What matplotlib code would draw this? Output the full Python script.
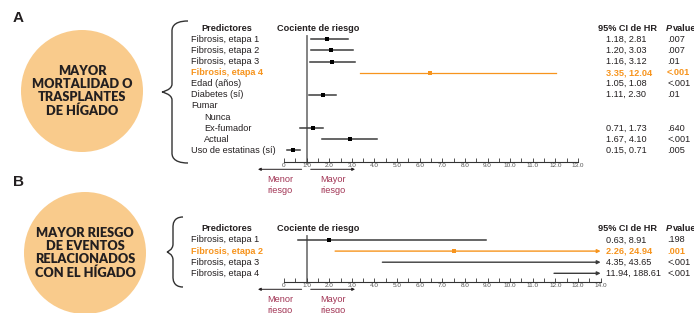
import numpy as np
import matplotlib
matplotlib.use("Agg")
import matplotlib.pyplot as plt
from matplotlib.patches import Circle, PathPatch
from matplotlib.path import Path
from matplotlib.transforms import blended_transform_factory

# ---- data -------------------------------------------------------------
pred_a = ["Fibrosis, etapa 1", "Fibrosis, etapa 2", "Fibrosis, etapa 3", "Fibrosis, etapa 4",
          "Edad (años)", "Diabetes (sí)", "Fumar", "Nunca", "Ex-fumador", "Actual",
          "Uso de estatinas (sí)"]
indent_a = [0, 0, 0, 0, 0, 0, 0, 1, 1, 1, 0]
hr_a = [1.9, 2.08, 2.12, 6.45, 1.06, 1.73, np.nan, np.nan, 1.27, 2.93, 0.41]
lo_a = [1.18, 1.20, 1.16, 3.35, 1.05, 1.11, np.nan, np.nan, 0.71, 1.67, 0.15]
hi_a = [2.81, 3.03, 3.12, 12.04, 1.08, 2.30, np.nan, np.nan, 1.73, 4.10, 0.71]
ci_a = ["1.18, 2.81", "1.20, 3.03", "1.16, 3.12", "3.35, 12.04", "1.05, 1.08", "1.11, 2.30",
        "", "", "0.71, 1.73", "1.67, 4.10", "0.15, 0.71"]
p_a = [".007", ".007", ".01", "<.001", "<.001", ".01", "", "", ".640", "<.001", ".005"]
hl_a = 3

pred_b = ["Fibrosis, etapa 1", "Fibrosis, etapa 2", "Fibrosis, etapa 3", "Fibrosis, etapa 4"]
indent_b = [0, 0, 0, 0]
hr_b = [2.0, 7.5, 13.78, 47.5]
lo_b = [0.63, 2.26, 4.35, 11.94]
hi_b = [8.91, 24.94, 43.65, 188.61]
ci_b = ["0.63, 8.91", "2.26, 24.94", "4.35, 43.65", "11.94, 188.61"]
p_b = [".198", ".001", "<.001", "<.001"]
hl_b = 1

circle_a = "MAYOR\nMORTALIDAD O\nTRASPLANTES\nDE HÍGADO"
circle_b = "MAYOR RIESGO\nDE EVENTOS\nRELACIONADOS\nCON EL HÍGADO"

# ---- style ------------------------------------------------------------
ORANGE = "#F7941D"
PEACH = "#F9CB8C"
MAROON = "#A23555"
INK = "#231F20"
LINE = "#3c3c3c"
plt.rcParams["font.family"] = ["Liberation Sans", "DejaVu Sans"]

W, H = 694, 313
fig = plt.figure(figsize=(W / 100, H / 100), dpi=100)

# background layer in pixel units for the circles / braces / panel letters
bg = fig.add_axes([0, 0, 1, 1])
bg.set_xlim(0, W)
bg.set_ylim(H, 0)
bg.axis("off")


def brace(x_tip, y_top, y_bot, x_stem, x_end):
    ym = (y_top + y_bot) / 2
    verts = [(x_end, y_top), (x_stem, y_top), (x_stem, y_top + 8), (x_stem, y_top + 10),
             (x_stem, ym - 8),
             (x_stem, ym - 2), (x_tip, ym), (x_tip, ym),
             (x_tip, ym), (x_stem, ym + 2), (x_stem, ym + 8),
             (x_stem, y_bot - 10),
             (x_stem, y_bot - 8), (x_stem, y_bot), (x_end, y_bot)]
    codes = [Path.MOVETO, Path.CURVE4, Path.CURVE4, Path.CURVE4, Path.LINETO,
             Path.CURVE4, Path.CURVE4, Path.CURVE4,
             Path.CURVE4, Path.CURVE4, Path.CURVE4, Path.LINETO,
             Path.CURVE4, Path.CURVE4, Path.CURVE4]
    bg.add_patch(PathPatch(Path(verts, codes), fill=False, lw=1.0, ec="#333333"))


bg.add_patch(Circle((82, 91), 61, color=PEACH, lw=0))
bg.add_patch(Circle((85, 253), 61, color=PEACH, lw=0))
bg.text(82, 91, circle_a, ha="center", va="center", fontsize=9.2, family="Lato",
        weight="heavy", color=INK, linespacing=1.12)
bg.text(85, 253, circle_b, ha="center", va="center", fontsize=9.2, family="Lato",
        weight="heavy", color=INK, linespacing=1.12)
bg.text(13, 18, "A", fontsize=11, weight="bold", va="center", ha="left", color=INK)
bg.text(13, 182, "B", fontsize=11, weight="bold", va="center", ha="left", color=INK)
brace(162, 21, 163, 172, 188)
brace(167, 217, 287, 173, 183)

# forest plot geometry: x=0 at px 284, 13 at px 578 ; rows 11.1 px apart
X0, SX, RY = 284, 294 / 13, 11.1


def forest(y_px0, y_px1, row0_px, axis_px, xmax, pred, indent, hr, lo, hi, ci, pv, hl,
           vline):
    ax = fig.add_axes([180 / W, 1 - y_px1 / H, (W - 180) / W, (y_px1 - y_px0) / H])
    ax.set_xlim((180 - X0) / SX, (W - X0) / SX)
    ax.set_ylim((y_px1 - row0_px) / RY, (y_px0 - row0_px) / RY)
    ax.patch.set_alpha(0)
    for s in ["top", "left", "right"]:
        ax.spines[s].set_visible(False)
    axis_row = (axis_px - row0_px) / RY
    ax.spines["bottom"].set_position(("data", axis_row))
    ax.spines["bottom"].set_bounds(0, xmax)
    ax.spines["bottom"].set_linewidth(0.8)
    ax.spines["bottom"].set_color("#333333")
    ax.set_xticks(np.arange(0, xmax + 1))
    ax.set_xticklabels(["0"] + [f"{v:.1f}" for v in np.arange(1, xmax + 1)])
    ax.set_xticks(np.arange(0.5, xmax, 1), minor=True)
    ax.tick_params(axis="x", which="both", direction="in", length=2.8, width=0.6,
                   color="#333333", labelsize=4.6, labelcolor="#555555", pad=1)
    ax.set_yticks([])

    ax.plot([1, 1], vline, color="#7a7a7a", lw=1.3, zorder=1)

    tr = blended_transform_factory(fig.transFigure, ax.transData)
    for i, name in enumerate(pred):
        col = ORANGE if i == hl else INK
        wt = "bold" if i == hl else "normal"
        lc = ORANGE if i == hl else LINE
        ax.text((191 + 13 * indent[i]) / W, i, name, transform=tr, ha="left", va="center",
                fontsize=6.6, color=col, weight=wt)
        ax.text(606.5 / W, i, ci[i], transform=tr, ha="left", va="center",
                fontsize=6.6, color=col, weight=wt)
        ax.text(667 / W, i, pv[i], transform=tr, ha="left", va="center",
                fontsize=6.6, color=col, weight=wt)
        if np.isnan(lo[i]):
            continue
        if hi[i] > xmax:
            ax.annotate("", xy=(xmax, i), xytext=(lo[i], i),
                        arrowprops=dict(arrowstyle="-|>", color=lc, lw=1.0,
                                        mutation_scale=5, shrinkA=0, shrinkB=0))
        else:
            ax.plot([lo[i], hi[i]], [i, i], color=lc, lw=1.1 if i != hl else 0.9)
        if hr[i] < xmax - 0.5 and hi[i] - lo[i] > 0.1:
            ax.plot(hr[i], i, "s", ms=2.6, color="black" if i != hl else ORANGE, mew=0)

    # headers
    ax.text(201 / W, -1, "Predictores", transform=tr, ha="left", va="center",
            fontsize=6.6, weight="bold", color=INK)
    ax.text(277 / W, -1, "Cociente de riesgo", transform=tr, ha="left", va="center",
            fontsize=6.6, weight="bold", color=INK)
    ax.text(598 / W, -1, "95% CI de HR", transform=tr, ha="left", va="center",
            fontsize=6.6, weight="bold", color=INK)
    ax.text(666 / W, -1, "P", transform=tr, ha="left", va="center",
            fontsize=6.6, weight="bold", style="italic", color=INK)
    ax.text(673 / W, -1, "value", transform=tr, ha="left", va="center",
            fontsize=6.6, weight="bold", color=INK)

    # risk direction arrows
    ya = axis_row + 7.6 / RY
    ax.annotate("", xy=(-1.15, ya), xytext=(0.78, ya),
                arrowprops=dict(arrowstyle="-|>", color=INK, lw=0.7, mutation_scale=4,
                                shrinkA=0, shrinkB=0))
    ax.annotate("", xy=(3.14, ya), xytext=(1.18, ya),
                arrowprops=dict(arrowstyle="-|>", color=INK, lw=0.7, mutation_scale=4,
                                shrinkA=0, shrinkB=0))
    ax.text(-0.18, axis_row + 13.5 / RY, "Menor\nriesgo", ha="center", va="top",
            fontsize=6.6, color=MAROON, linespacing=1.25)
    ax.text(2.17, axis_row + 13.5 / RY, "Mayor\nriesgo", ha="center", va="top",
            fontsize=6.6, color=MAROON, linespacing=1.25)
    return ax


forest(18, 205, 39.3, 161.7, 13, pred_a, indent_a, hr_a, lo_a, hi_a, ci_a, p_a, hl_a,
       [-0.33, 11.2])
forest(205, 313, 240.0, 281.7, 14, pred_b, indent_b, hr_b, lo_b, hi_b, ci_b, p_b, hl_b,
       [-0.39, 3.87])

fig.savefig("out.png", dpi=100)
